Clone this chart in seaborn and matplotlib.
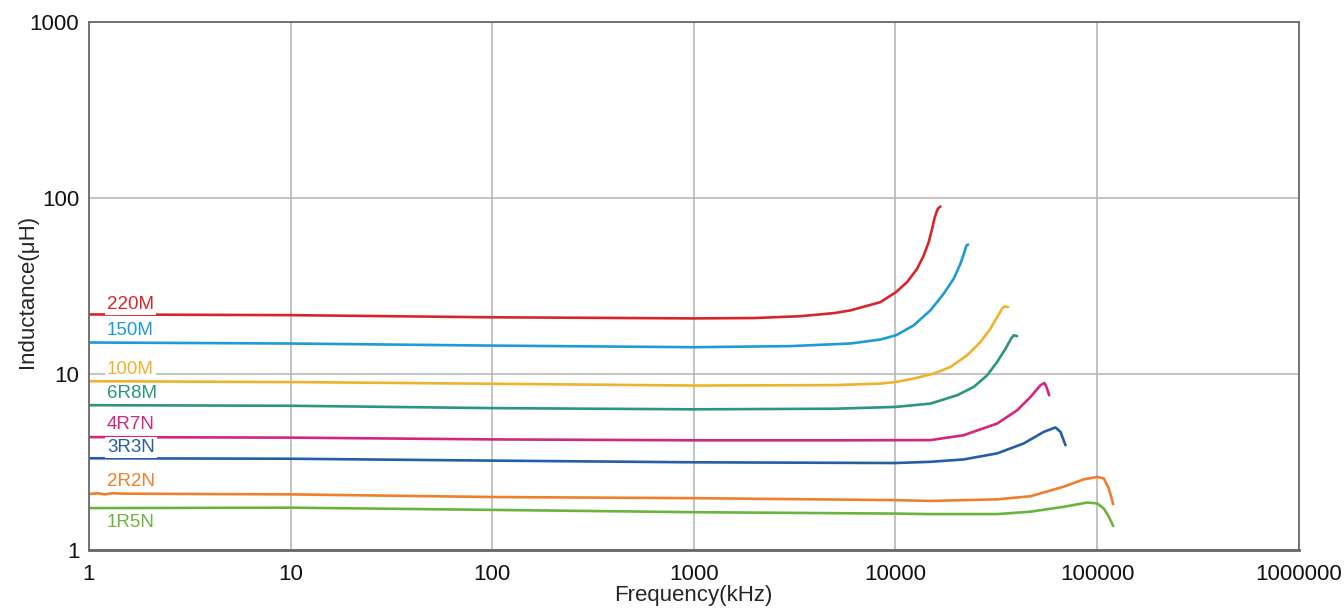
import pandas as pd
import matplotlib
matplotlib.use("Agg")
import matplotlib.pyplot as plt
import seaborn as sns

# inductance vs frequency
parts = ["220M", "150M", "100M", "6R8M", "4R7N", "3R3N", "2R2N", "1R5N"]
colors = ["#d7262b", "#1f9ad6", "#f0b22c", "#2a9680", "#d6257f", "#245ea6", "#ee7f2b", "#6ab43e"]

freq_220M = [1, 10, 100, 1000, 2000, 3380, 5000, 6000, 8424, 10081, 11434, 12814,
             13820, 14633, 15212, 15674, 16222, 16730]
ind_220M = [21.8, 21.6, 21.0, 20.7, 20.8, 21.3, 22.2, 23.0, 25.6, 29.2, 33.3, 39.6,
            47.1, 56.1, 66.8, 77.7, 86.7, 89.4]

freq_150M = [1, 10, 100, 1000, 3000, 5980, 8424, 10081, 12327, 14920, 17370, 19470,
             21020, 22000, 22510, 22950]
ind_150M = [15.1, 14.9, 14.5, 14.2, 14.4, 14.9, 15.7, 16.6, 18.9, 23.0, 28.6, 34.8,
            42.3, 49.2, 53.7, 54.4]

freq_100M = [1, 10, 100, 1000, 5000, 8424, 10081, 12327, 15490, 18750, 22690, 26420,
             29610, 31970, 33840, 34740, 36250]
ind_100M = [9.1, 9.0, 8.8, 8.6, 8.65, 8.82, 9.01, 9.42, 10.05, 10.96, 12.77, 15.19,
            18.09, 21.05, 23.5, 24.2, 24.0]

freq_6R8M = [1, 10, 100, 1000, 5000, 10000, 14920, 20240, 24470, 28520, 31970, 35150,
             37520, 38650, 40180]
ind_6R8M = [6.65, 6.6, 6.4, 6.3, 6.35, 6.5, 6.79, 7.57, 8.44, 9.83, 11.7, 13.9,
            15.9, 16.6, 16.4]

freq_4R7N = [1, 10, 100, 1000, 5000, 14920, 21830, 31970, 40180, 46770, 52440, 54900,
             56170, 57940]
ind_4R7N = [4.38, 4.35, 4.25, 4.2, 4.2, 4.21, 4.49, 5.23, 6.22, 7.40, 8.63, 8.89,
            8.44, 7.57]

freq_3R3N = [1, 10, 100, 1000, 10000, 14920, 21830, 31970, 43310, 54450, 62230, 65920, 69800]
ind_3R3N = [3.32, 3.3, 3.22, 3.15, 3.12, 3.17, 3.27, 3.54, 4.03, 4.69, 4.97, 4.69, 3.94]

freq_2R2N = [1, 1.1, 1.2, 1.3, 1.5, 10, 100, 1000, 10000, 14920, 31970, 46770, 68440,
             86020, 100230, 108100, 114450, 120350]
ind_2R2N = [2.08, 2.1, 2.07, 2.1, 2.09, 2.07, 2.0, 1.97, 1.92, 1.90, 1.94, 2.02, 2.29,
            2.52, 2.60, 2.55, 2.24, 1.82]

freq_1R5N = [1, 10, 100, 1000, 10000, 14920, 31970, 46770, 68440, 89360, 100230, 108100,
             114450, 120350]
ind_1R5N = [1.73, 1.74, 1.69, 1.64, 1.61, 1.60, 1.60, 1.65, 1.76, 1.86, 1.84, 1.72,
            1.545, 1.37]

# label anchor positions in data units
label_x = 1.23
label_y = [24.8, 17.7, 10.6, 7.77, 5.18, 3.84, 2.46, 1.44]

x_ticks = [1, 10, 100, 1000, 10000, 100000, 1000000]
x_tick_labels = ["1", "10", "100", "1000", "10000", "100000", "1000000"]
y_ticks = [1, 10, 100, 1000]
y_tick_labels = ["1", "10", "100", "1000"]

series = {
    "220M": (freq_220M, ind_220M),
    "150M": (freq_150M, ind_150M),
    "100M": (freq_100M, ind_100M),
    "6R8M": (freq_6R8M, ind_6R8M),
    "4R7N": (freq_4R7N, ind_4R7N),
    "3R3N": (freq_3R3N, ind_3R3N),
    "2R2N": (freq_2R2N, ind_2R2N),
    "1R5N": (freq_1R5N, ind_1R5N),
}
frames = []
for name, (f, L) in series.items():
    frames.append(pd.DataFrame({"part": name, "freq": f, "ind": L}))
df = pd.concat(frames, ignore_index=True)

sns.set_style("white")
plt.rcParams["font.family"] = ["Liberation Sans", "DejaVu Sans"]

fig = plt.figure(figsize=(13.44, 6.08), dpi=100)
ax = fig.add_axes([0.0662, 0.0954, 0.9, 0.8684])

sns.lineplot(data=df, x="freq", y="ind", hue="part", hue_order=parts,
             palette=colors, sort=False, estimator=None, legend=False,
             linewidth=1.9, ax=ax)

ax.set_xscale("log")
ax.set_yscale("log")
ax.set_xlim(1, 1000000)
ax.set_ylim(1, 1000)
ax.set_xticks(x_ticks)
ax.set_xticklabels(x_tick_labels)
ax.set_yticks(y_ticks)
ax.set_yticklabels(y_tick_labels)
ax.minorticks_off()
ax.tick_params(length=0, labelsize=16, colors="#111111")
ax.tick_params(axis="y", pad=7)
ax.tick_params(axis="x", pad=10)

ax.grid(True, color="#b3b3b3", linewidth=1.1)
ax.set_axisbelow(True)
for side in ["top", "right", "left"]:
    ax.spines[side].set_color("#6a6a6a")
    ax.spines[side].set_linewidth(1.3)
ax.spines["bottom"].set_color("#666666")
ax.spines["bottom"].set_linewidth(2)

for name, c, ly in zip(parts, colors, label_y):
    ax.text(label_x, ly, name, color=c, fontsize=13.5, va="center", ha="left",
            bbox=dict(facecolor="white", edgecolor="none", pad=1.5), zorder=3)

ax.set_xlabel("Frequency(kHz)", fontsize=16, labelpad=0)
ax.set_ylabel("Inductance(μH)", fontsize=16)
ax.yaxis.set_label_coords(-0.042, 0.49)

fig.savefig("out.png", dpi=100)
